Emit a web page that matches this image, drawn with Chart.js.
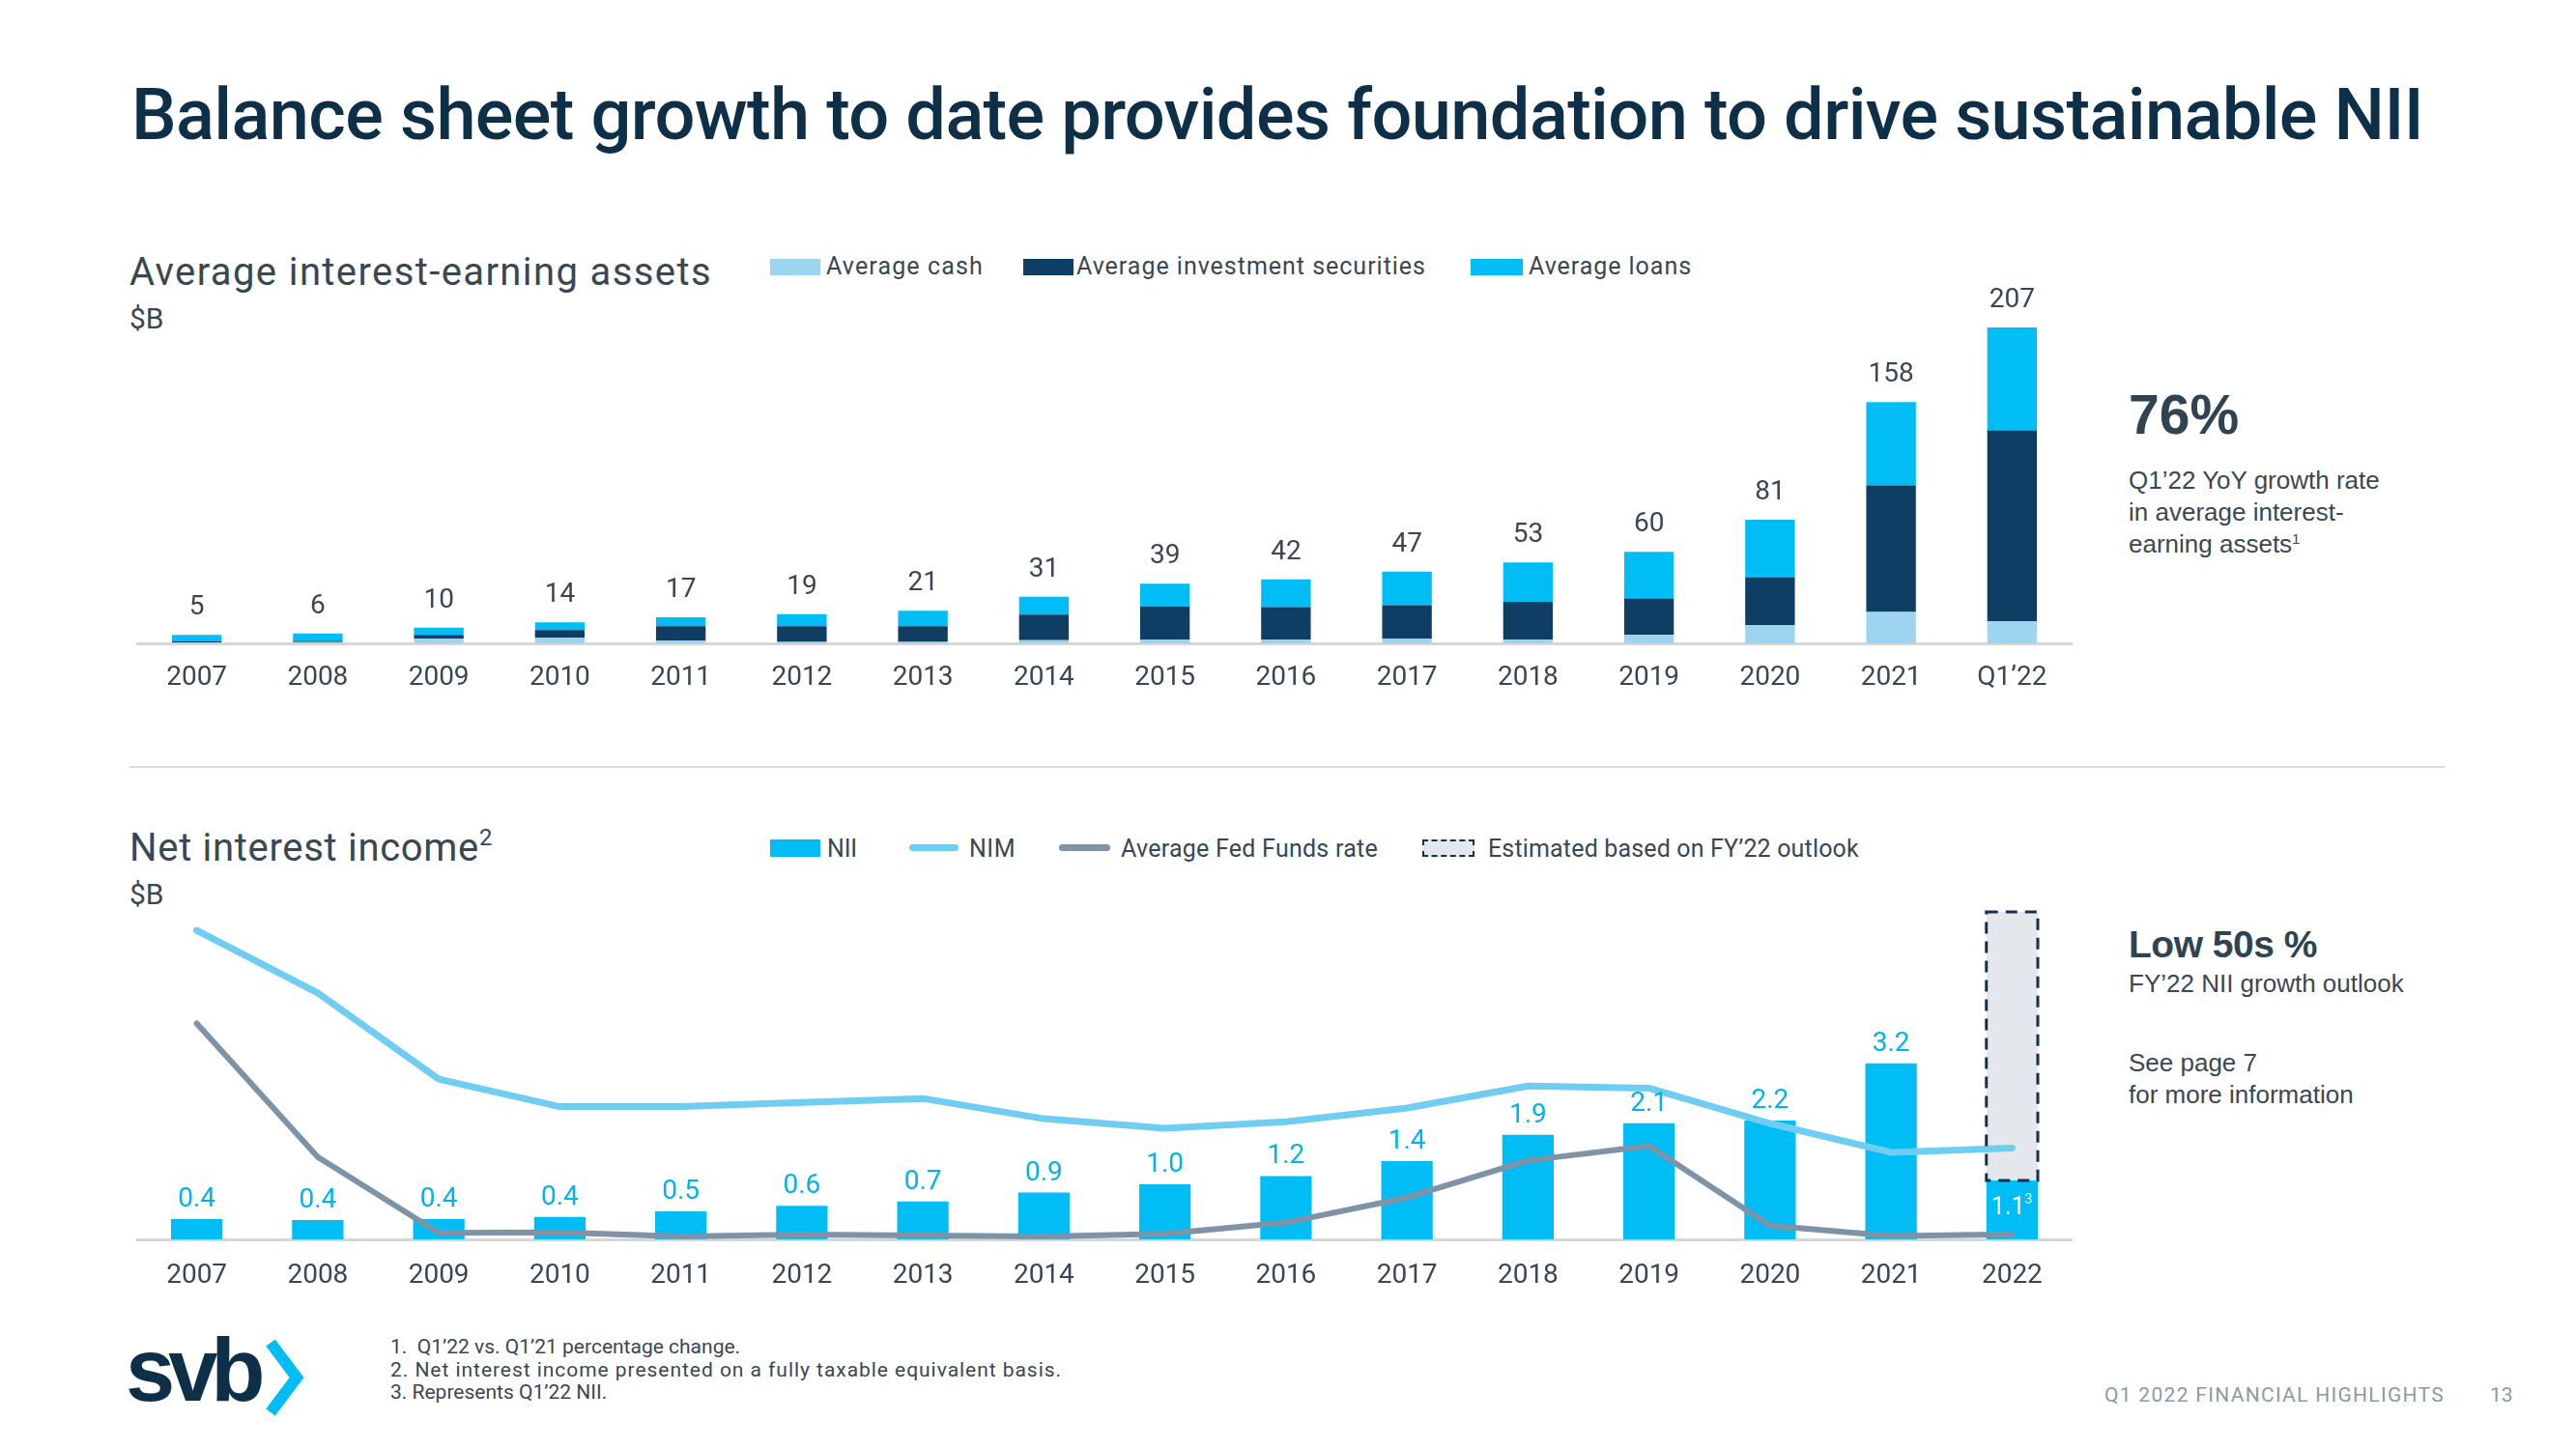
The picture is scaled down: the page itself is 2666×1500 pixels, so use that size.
<!DOCTYPE html>
<html>
<head>
<meta charset="utf-8">
<script src="https://cdn.jsdelivr.net/npm/chart.js@4.4.1/dist/chart.umd.min.js"></script>
<style>
  html, body { margin: 0; padding: 0; background: #fff; }
  #page { position: relative; width: 2666px; height: 1500px; overflow: hidden; font-family: Roboto, sans-serif; color: #3a4752; }
  .t { position: absolute; white-space: nowrap; line-height: 1; }
  .sw { position: absolute; }
  .ln { position: absolute; height: 7px; border-radius: 4px; }
  .side { font-family: "Liberation Sans", Arial, sans-serif; color: #3a4853; }
  .wrap { position: absolute; }
</style>
</head>
<body>
<div id="page">
  <div class="t fit" data-w="2372" style="left:136px;top:82px;font-size:74px;font-weight:500;color:#0e2f48;">Balance sheet growth to date provides foundation to drive sustainable NII</div>

  <!-- top chart heading + legend -->
  <div class="t fit" data-w="603" style="left:134px;top:262px;font-size:40px;">Average interest-earning assets</div>
  <div class="t" style="left:134px;top:315px;font-size:30px;">$B</div>

  <div class="sw" style="left:797px;top:268px;width:52px;height:17px;background:#9dd5f0;"></div>
  <div class="t fit" data-w="163" style="left:855px;top:263px;font-size:25px;">Average cash</div>
  <div class="sw" style="left:1059px;top:268px;width:52px;height:17px;background:#0f3e64;"></div>
  <div class="t fit" data-w="362" style="left:1114px;top:263px;font-size:25px;">Average investment securities</div>
  <div class="sw" style="left:1522px;top:268px;width:54px;height:17px;background:#00bdf6;"></div>
  <div class="t fit" data-w="169" style="left:1582px;top:263px;font-size:25px;">Average loans</div>

  <div class="wrap" style="left:141px;top:280px;width:2004px;height:450px;"><canvas id="assetsChart"></canvas></div>

  <div class="t side" style="left:2203px;top:401px;font-size:57px;font-weight:bold;color:#2f4451;">76%</div>
  <div class="t side" style="left:2203px;top:481px;font-size:26px;line-height:33px;">Q1’22 YoY growth rate<br>in average interest-<br>earning assets<sup style="font-size:15px;vertical-align:9px;line-height:0;">1</sup></div>

  <div style="position:absolute;left:134px;top:793px;width:2396px;height:2px;background:#d8dbde;"></div>

  <!-- bottom chart heading + legend -->
  <div class="t" style="left:134px;top:858px;font-size:40px;"><span class="fit" data-w="362" style="display:inline-block;">Net interest income</span><sup style="font-size:24px;vertical-align:16px;line-height:0;">2</sup></div>
  <div class="t" style="left:134px;top:911px;font-size:30px;">$B</div>

  <div class="sw" style="left:797px;top:869px;width:52px;height:18px;background:#00bdf6;"></div>
  <div class="t fit" data-w="31" style="left:856px;top:866px;font-size:25px;">NII</div>
  <div class="ln" style="left:941px;top:874px;width:51px;background:#6fcdf2;"></div>
  <div class="t fit" data-w="48" style="left:1003px;top:866px;font-size:25px;">NIM</div>
  <div class="ln" style="left:1096px;top:874px;width:53px;background:#7f93a6;"></div>
  <div class="t fit" data-w="266" style="left:1160px;top:866px;font-size:25px;">Average Fed Funds rate</div>
  <div class="sw" style="left:1472px;top:869px;width:50px;height:14px;background:#e4e8ec;border:2px dashed #15324a;"></div>
  <div class="t fit" data-w="384" style="left:1540px;top:866px;font-size:25px;">Estimated based on  FY’22 outlook</div>

  <div class="wrap" style="left:141px;top:940px;width:2004px;height:407px;"><canvas id="niiChart"></canvas></div>

  <div class="t side" style="left:2203px;top:958px;font-size:39px;font-weight:bold;color:#2f4451;letter-spacing:-0.5px;">Low 50s %</div>
  <div class="t side" style="left:2203px;top:1005px;font-size:26px;">FY’22 NII growth outlook</div>
  <div class="t side" style="left:2203px;top:1084px;font-size:26px;line-height:33px;">See page 7<br>for more information</div>

  <!-- footer -->
  <div class="t side" style="left:130px;top:1372px;font-size:92px;font-weight:bold;color:#0d2f48;letter-spacing:-7px;">svb</div>
  <svg style="position:absolute;left:262px;top:1384px;" width="60" height="86">
    <polyline points="18,6 45,42 18,78" fill="none" stroke="#00bdf6" stroke-width="12" stroke-linejoin="miter"/>
  </svg>
  <div class="t" style="left:404px;top:1383px;font-size:21px;line-height:23.5px;color:#3a4752;">
    <div>1.&nbsp; Q1’22 vs. Q1’21 percentage change.</div>
    <div class="fit" data-w="695" style="display:inline-block;">2. Net interest income presented on a fully taxable equivalent basis.</div>
    <div>3. Represents Q1’22 NII.</div>
  </div>
  <div class="t fit" data-w="352" style="left:2178px;top:1434px;font-size:21px;color:#8a9ba6;">Q1 2022 FINANCIAL HIGHLIGHTS</div>
  <div class="t" style="left:2577px;top:1434px;font-size:21px;color:#8a9ba6;">13</div>
</div>

<script>
// Average interest-earning assets ($B)
const assetYears = ['2007', '2008', '2009', '2010', '2011', '2012', '2013', '2014', '2015', '2016', '2017', '2018', '2019', '2020', '2021', 'Q1’22'];
const avgCash = [0.6, 0.8, 3.2, 3.6, 1.9, 1.0, 1.0, 2.1, 2.3, 2.3, 3.0, 2.5, 5.7, 12.0, 20.5, 14.6];
const avgSecurities = [0.6, 0.8, 2.3, 5.1, 9.3, 10.3, 10.3, 16.7, 21.8, 21.5, 22.0, 24.7, 23.8, 31.4, 83.0, 125.0];
const avgLoans = [4.3, 4.9, 4.8, 5.0, 5.9, 7.9, 10.0, 11.8, 14.9, 18.2, 22.0, 25.8, 30.5, 37.6, 54.5, 67.4];
const assetTotals = ['5', '6', '10', '14', '17', '19', '21', '31', '39', '42', '47', '53', '60', '81', '158', '207'];

// Net interest income ($B) and rates (%)
const niiYears = ['2007', '2008', '2009', '2010', '2011', '2012', '2013', '2014', '2015', '2016', '2017', '2018', '2019', '2020', '2021', '2022'];
const niiValues = [0.37, 0.35, 0.37, 0.41, 0.51, 0.61, 0.69, 0.85, 1.0, 1.15, 1.42, 1.9, 2.11, 2.16, 3.2, 1.07];
const niiLabels = ['0.4', '0.4', '0.4', '0.4', '0.5', '0.6', '0.7', '0.9', '1.0', '1.2', '1.4', '1.9', '2.1', '2.2', '3.2', '1.1'];
const niiEstimate = [null, null, null, null, null, null, null, null, null, null, null, null, null, null, null, 4.88];
const nimRate = [7.17, 5.72, 3.72, 3.08, 3.08, 3.18, 3.27, 2.8, 2.58, 2.73, 3.05, 3.56, 3.51, 2.69, 2.02, 2.12];
const fedFundsRate = [5.01, 1.91, 0.15, 0.16, 0.07, 0.11, 0.09, 0.07, 0.13, 0.39, 0.97, 1.83, 2.17, 0.32, 0.08, 0.12];

const TEXT = '#3a4752';
const CYAN = '#00bdf6';

// bar value labels drawn above the top of each stack
const valueLabels = {
    id: 'valueLabels',
    afterDatasetsDraw(chart, args, opts) {
        const ctx = chart.ctx;
        const meta = chart.getDatasetMeta(opts.datasetIndex);
        ctx.save();
        ctx.font = '28px Roboto';
        ctx.textAlign = 'center';
        ctx.textBaseline = 'alphabetic';
        meta.data.forEach((bar, i) => {
            const text = opts.labels[i];
            if (opts.insideIndex === i) {
                ctx.fillStyle = '#ffffff';
                ctx.font = '25px Roboto';
                ctx.fillText(text, bar.x - 4, (bar.y + bar.base) / 2 + 4);
                ctx.font = '14px Roboto';
                ctx.fillText('3', bar.x + 17, (bar.y + bar.base) / 2 - 7);
                return;
            }
            ctx.fillStyle = opts.color;
            ctx.fillText(text, bar.x, bar.y - opts.gap);
        });
        ctx.restore();
    }
};

// dashed outline round the FY'22 estimate
const dashedBox = {
    id: 'dashedBox',
    afterDatasetsDraw(chart) {
        const meta = chart.getDatasetMeta(1);
        const ctx = chart.ctx;
        ctx.save();
        ctx.strokeStyle = '#15324a';
        ctx.lineWidth = 3;
        ctx.setLineDash([12, 8]);
        meta.data.forEach(bar => {
            if (bar.skip || bar.base === bar.y) return;
            ctx.strokeRect(bar.x - bar.width / 2, bar.y, bar.width, bar.base - bar.y);
        });
        ctx.restore();
    }
};

function xAxis(labels, pad) {
    return {
        type: 'category',
        labels: labels,
        stacked: true,
        grid: { display: false, drawTicks: false },
        border: { display: true, color: '#d6d6d6', width: 3 },
        ticks: { color: TEXT, font: { family: 'Roboto', size: 28 }, padding: pad },
        afterFit: s => { s.height = 64; }
    };
}

function drawCharts() {
    new Chart(document.getElementById('assetsChart'), {
        type: 'bar',
        data: {
            labels: assetYears,
            datasets: [
                { label: 'Average cash', data: avgCash, backgroundColor: '#9dd5f0' },
                { label: 'Average investment securities', data: avgSecurities, backgroundColor: '#0f3e64' },
                { label: 'Average loans', data: avgLoans, backgroundColor: CYAN }
            ]
        },
        options: {
            responsive: true,
            maintainAspectRatio: false,
            animation: false,
            layout: { padding: { top: 20, left: 0, right: 0, bottom: 0 } },
            datasets: { bar: { barPercentage: 0.41, categoryPercentage: 1 } },
            scales: {
                x: xAxis(assetYears, 19),
                y: { display: false, stacked: true, min: 0, max: 231.6 }
            },
            plugins: {
                legend: { display: false },
                tooltip: { enabled: false },
                valueLabels: { datasetIndex: 2, labels: assetTotals, color: TEXT, gap: 21 }
            }
        },
        plugins: [valueLabels]
    });

    new Chart(document.getElementById('niiChart'), {
        type: 'bar',
        data: {
            labels: niiYears,
            datasets: [
                { label: 'NII', data: niiValues, backgroundColor: CYAN, order: 2, stack: 'nii' },
                { label: 'Estimated based on FY’22 outlook', data: niiEstimate, backgroundColor: '#e4e8ec', order: 3, stack: 'nii' },
                { type: 'line', label: 'NIM', data: nimRate, yAxisID: 'yRate', borderColor: '#6fcdf2', borderWidth: 7,
                  pointRadius: 0, tension: 0, borderCapStyle: 'round', borderJoinStyle: 'round', order: 1 },
                { type: 'line', label: 'Average Fed Funds rate', data: fedFundsRate, yAxisID: 'yRate', borderColor: '#7f93a6', borderWidth: 6,
                  pointRadius: 0, tension: 0, borderCapStyle: 'round', borderJoinStyle: 'round', order: 0 }
            ]
        },
        options: {
            responsive: true,
            maintainAspectRatio: false,
            animation: false,
            layout: { padding: 0 },
            datasets: { bar: { barPercentage: 0.425, categoryPercentage: 1 } },
            scales: {
                x: xAxis(niiYears, 21),
                y: { display: false, stacked: true, min: 0, max: 6.02 },
                yRate: { type: 'linear', axis: 'y', position: 'right', display: false, stacked: false, min: 0, max: 7.69 }
            },
            plugins: {
                legend: { display: false },
                tooltip: { enabled: false },
                valueLabels: { datasetIndex: 0, labels: niiLabels, color: '#00b3ee', gap: 13, insideIndex: 15 }
            }
        },
        plugins: [dashedBox, valueLabels]
    });
}

function fitText() {
    document.querySelectorAll('.fit').forEach(el => {
        el.style.letterSpacing = '0px';
        const w = el.getBoundingClientRect().width;
        const n = el.textContent.length;
        el.style.letterSpacing = ((+el.dataset.w - w) / n) + 'px';
    });
}

document.fonts.ready.then(() => {
    fitText();
    drawCharts();
});
</script>
</body>
</html>
